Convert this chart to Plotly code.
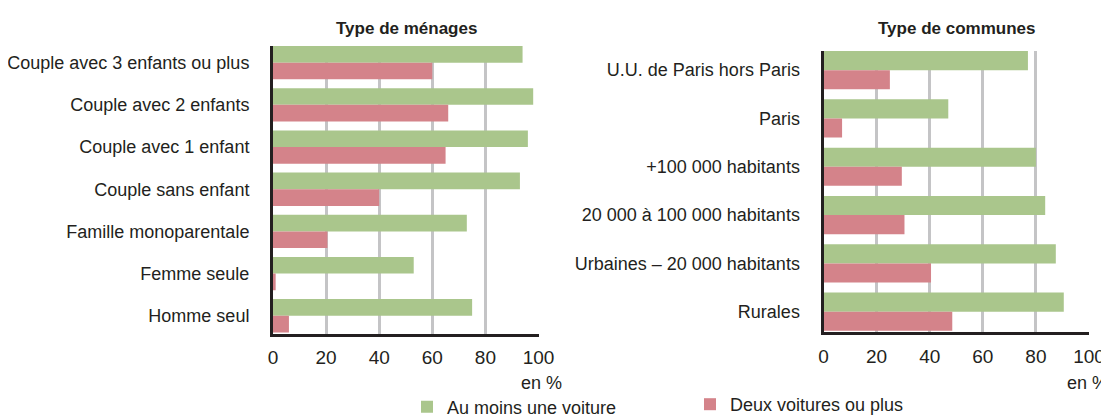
import plotly.graph_objects as go

# ---- data ----
menages = ["Couple avec 3 enfants ou plus", "Couple avec 2 enfants", "Couple avec 1 enfant",
           "Couple sans enfant", "Famille monoparentale", "Femme seule", "Homme seul"]
menages_une = [94, 98, 96, 93, 73, 53, 75]
menages_deux = [60, 66, 65, 40, 20.5, 1, 6]

communes = ["U.U. de Paris hors Paris", "Paris", "+100 000 habitants",
            "20 000 à 100 000 habitants", "Urbaines – 20 000 habitants", "Rurales"]
communes_une = [77, 47, 80, 83.5, 87.5, 90.5]
communes_deux = [25, 7, 29.5, 30.5, 40.5, 48.5]

xticks = [0, 20, 40, 60, 80, 100]
serie_une = "Au moins une voiture"
serie_deux = "Deux voitures ou plus"

GREEN = "#aac68c"
RED = "#d4838a"
FONT = "Liberation Sans, Arial, sans-serif"
TXT = "#231f20"
FS = 18
W, H = 1109, 418
OFF = 8  # page body margin in the browser

fig = go.Figure()
fig.add_trace(go.Bar(y=menages, x=menages_une, orientation="h", name=serie_une,
                     marker=dict(color=GREEN, line=dict(width=0)), xaxis="x", yaxis="y",
                     legend="legend", showlegend=True))
fig.add_trace(go.Bar(y=menages, x=menages_deux, orientation="h", name=serie_deux,
                     marker=dict(color=RED, line=dict(width=0)), xaxis="x", yaxis="y",
                     legend="legend2", showlegend=True))
fig.add_trace(go.Bar(y=communes, x=communes_une, orientation="h", name=serie_une,
                     marker=dict(color=GREEN, line=dict(width=0)), xaxis="x2", yaxis="y2",
                     showlegend=False))
fig.add_trace(go.Bar(y=communes, x=communes_deux, orientation="h", name=serie_deux,
                     marker=dict(color=RED, line=dict(width=0)), xaxis="x2", yaxis="y2",
                     showlegend=False))

def px(v):
    return (v - OFF) / W

def py(v):
    return 1 - (v - OFF) / H

xcommon = dict(range=[0, 100], tickvals=xticks, showgrid=True, gridcolor="#c4c4c6", gridwidth=2.5,
               showline=True, linecolor="#231f20", linewidth=3, zeroline=False, ticks="",
               tickfont=dict(family=FONT, size=FS + 1, color=TXT), ticklabelstandoff=5,
               automargin=False, fixedrange=True)
ycommon = dict(type="category", showgrid=False, showline=True, linecolor="#231f20", linewidth=3,
               ticks="", tickfont=dict(family=FONT, size=FS, color=TXT), ticklabelstandoff=17,
               zeroline=False, automargin=False, fixedrange=True)

fig.update_layout(
    width=W, height=H, autosize=False,
    margin=dict(l=0, r=0, t=0, b=0, autoexpand=False),
    paper_bgcolor="white", plot_bgcolor="white",
    barmode="group", bargap=0.21, bargroupgap=0,
    xaxis=dict(domain=[px(273), px(538.5)], anchor="y", **xcommon),
    yaxis=dict(domain=[py(333.5), py(45.8)], anchor="x", categoryorder="array",
               categoryarray=menages, range=[6.42, -0.4], **ycommon),
    xaxis2=dict(domain=[px(823.5), px(1089)], anchor="y2", **xcommon),
    yaxis2=dict(domain=[py(332), py(50.8)], anchor="x2", categoryorder="array",
                categoryarray=communes, range=[5.42, -0.4], **ycommon),
    legend=dict(x=px(407), y=py(407), xanchor="left", yanchor="middle", orientation="h",
                font=dict(family=FONT, size=FS, color=TXT), bgcolor="rgba(0,0,0,0)",
                borderwidth=0, itemclick=False),
    legend2=dict(x=px(690), y=py(404.5), xanchor="left", yanchor="middle", orientation="h",
                 font=dict(family=FONT, size=FS, color=TXT), bgcolor="rgba(0,0,0,0)",
                 borderwidth=0, itemclick=False),
    annotations=[
        dict(text="<b>Type de ménages</b>", x=px(406), y=py(28), xref="paper", yref="paper",
             showarrow=False, xanchor="center", yanchor="middle",
             font=dict(family=FONT, size=17, color=TXT)),
        dict(text="<b>Type de communes</b>", x=px(956), y=py(28), xref="paper", yref="paper",
             showarrow=False, xanchor="center", yanchor="middle",
             font=dict(family=FONT, size=17, color=TXT)),
        dict(text="en %", x=px(541), y=py(383), xref="paper", yref="paper",
             showarrow=False, xanchor="center", yanchor="middle",
             font=dict(family=FONT, size=FS, color=TXT)),
        dict(text="en %", x=px(1087), y=py(383), xref="paper", yref="paper",
             showarrow=False, xanchor="center", yanchor="middle",
             font=dict(family=FONT, size=FS, color=TXT)),
    ],
)

fig.write_html("out.html")
